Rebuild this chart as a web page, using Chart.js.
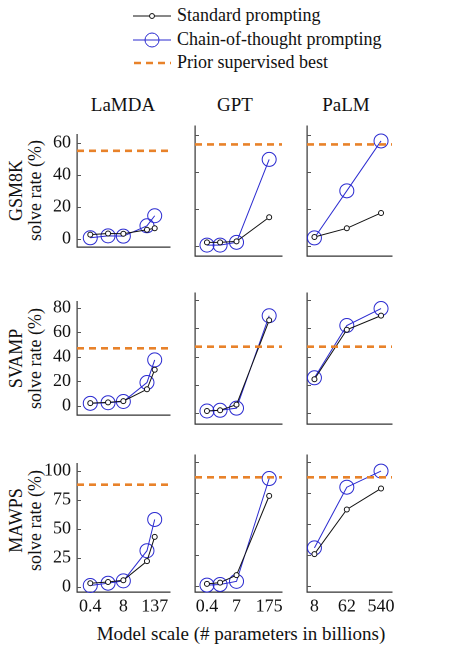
<!DOCTYPE html>
<html><head><meta charset="utf-8">
<script src="https://cdn.jsdelivr.net/npm/chart.js@4"></script>
<style>
body{margin:0;width:452px;height:656px;background:#fff;position:relative;font-family:"Liberation Serif","DejaVu Serif",serif;color:#111;overflow:hidden}
.a{position:absolute}
canvas{position:absolute}
.t{position:absolute;font-size:19px;text-align:center;width:100px}
.yl{position:absolute;font-size:18px;transform:rotate(-90deg);transform-origin:center;white-space:nowrap;text-align:center;width:150px}
.lg{position:absolute;left:133px;font-size:18px;display:flex;align-items:center}
</style></head><body>
<div class="lg" style="top:5px"><svg width="38" height="20"><line x1="0" y1="10" x2="38" y2="10" stroke="#111" stroke-width="1"/><circle cx="19" cy="10" r="2.5" fill="#fff" stroke="#111"/></svg><span style="margin-left:6px">Standard prompting</span></div>
<div class="lg" style="top:29px"><svg width="38" height="20"><line x1="0" y1="10" x2="38" y2="10" stroke="#2a2ad0" stroke-width="1"/><circle cx="19" cy="10" r="7" fill="none" stroke="#2a2ad0"/></svg><span style="margin-left:6px">Chain-of-thought prompting</span></div>
<div class="lg" style="top:52px"><svg width="38" height="20"><line x1="1" y1="10" x2="38" y2="10" stroke="#e8822a" stroke-width="2.5" stroke-dasharray="7,5"/></svg><span style="margin-left:6px">Prior supervised best</span></div>
<div class="t" style="left:73px;top:94px">LaMDA</div>
<div class="t" style="left:185px;top:94px">GPT</div>
<div class="t" style="left:296px;top:94px">PaLM</div>
<div class="yl" style="left:-59px;top:180px">GSM8K</div>
<div class="yl" style="left:-40px;top:180px">solve rate (%)</div>
<div class="yl" style="left:-59px;top:348px">SVAMP</div>
<div class="yl" style="left:-40px;top:348px">solve rate (%)</div>
<div class="yl" style="left:-59px;top:510px">MAWPS</div>
<div class="yl" style="left:-40px;top:510px">solve rate (%)</div>
<div class="a" style="left:0;width:482px;text-align:center;top:623px;font-size:19px">Model scale (# parameters in billions)</div>
<script>
const models=["LaMDA","GPT","PaLM"];
const tasks=["GSM8K","SVAMP","MAWPS"];
const sizesLaMDA=[0.4,2,8,68,137];
const sizesGPT=[0.35,1.3,6.7,175];
const sizesPaLM=[8,62,540];
const tickLabelsLaMDA=[[0.4,"0.4"],[8,"8"],[137,"137"]];
const tickLabelsGPT=[[0.35,"0.4"],[6.7,"7"],[175,"175"]];
const tickLabelsPaLM=[[8,"8"],[62,"62"],[540,"540"]];
const priorBest=[55,47,88];
const yTicks=[[0,20,40,60],[0,20,40,60,80],[0,25,50,75,100]];
const stdGSM8K=[[2.5,3.2,3,5.5,6.5],[2,2,2.5,15.6],[4.9,9.6,17.9]];
const cotGSM8K=[[0.5,1.7,1.5,8,14.3],[0.5,0.5,2,46.9],[4.4,29.9,56.9]];
const stdSVAMP=[[2.2,2.8,3.8,13.5,29.5],[1.5,2,6,65.7],[24,59,69]];
const cotSVAMP=[[2,2.5,3.5,19,37.5],[1.5,2,3.5,68.9],[25,62,74]];
const stdMAWPS=[[3,4,5.5,22,43],[2,3,9,73],[26,62,79]];
const cotMAWPS=[[1,3,5,31,58],[1,1.5,4,87],[31,80,93]];

const sizes=[sizesLaMDA,sizesGPT,sizesPaLM];
const tickLabels=[tickLabelsLaMDA,tickLabelsGPT,tickLabelsPaLM];
const std=[stdGSM8K,stdSVAMP,stdMAWPS];
const cot=[cotGSM8K,cotSVAMP,cotMAWPS];
const xRange=[[0.12,548],[0.106,630],[5,1080]];
const yRange=[[-5.4,65],[-7.7,85],[-4.6,106]];
const colLeft=[77,187,299], colW=[93,95,93];
const rowTop=[118,285,447], rowBot=[262,430,592];
const YW=42, XH=24, FONT='"Liberation Serif","DejaVu Serif",serif';

const innerTicks={id:'it',afterDraw(c){const g=c.ctx,a=c.chartArea,y=c.scales.y;g.save();g.strokeStyle='#555';g.lineWidth=1;
 y.ticks.forEach(t=>{const p=Math.round(y.getPixelForValue(t.value))+0.5;g.beginPath();g.moveTo(a.left,p);g.lineTo(a.left+4,p);g.stroke();});g.restore();}};

for(let r=0;r<3;r++)for(let c=0;c<3;c++){
 const cv=document.createElement('canvas');
 const w=colW[c]+(c===0?YW:0)+12, h=rowBot[r]-rowTop[r]+(r===2?XH:0)+2;
 cv.width=w;cv.height=h;
 cv.style.left=(colLeft[c]-(c===0?YW:0))+'px';cv.style.top=rowTop[r]+'px';
 cv.style.width=w+'px';cv.style.height=h+'px';
 document.body.appendChild(cv);
 const xs=sizes[c];
 new Chart(cv,{type:'line',data:{datasets:[
  {data:xRange[c].map(x=>({x,y:priorBest[r]})),borderColor:'#e8822a',borderWidth:2.6,borderDash:[7,5],pointRadius:0,clip:false},
  {data:xs.map((x,i)=>({x,y:std[r][c][i]})),borderColor:'#111',borderWidth:1,pointRadius:2.5,pointBackgroundColor:'#fff',pointBorderColor:'#111',pointBorderWidth:1,clip:false},
  {data:xs.map((x,i)=>({x,y:cot[r][c][i]})),borderColor:'#2a2ad0',borderWidth:1,pointRadius:7,pointBackgroundColor:'rgba(0,0,0,0)',pointBorderColor:'#2a2ad0',pointBorderWidth:1,clip:false}
 ]},options:{responsive:false,animation:false,devicePixelRatio:2,
  layout:{padding:{top:0,right:12,bottom:2,left:0}},
  plugins:{legend:{display:false},tooltip:{enabled:false}},
  scales:{
   x:{type:'logarithmic',min:xRange[c][0],max:xRange[c][1],
    afterBuildTicks:s=>{s.ticks=tickLabels[c].map(t=>({value:t[0]}));},
    afterFit:s=>{s.height=r===2?XH:0;},
    grid:{display:false,drawTicks:false},border:{display:true,color:'#333',width:1.2},
    ticks:{display:r===2,autoSkip:false,maxRotation:0,padding:4,color:'#111',font:{family:FONT,size:18},
     callback:(v)=>{const f=tickLabels[c].find(t=>t[0]===v);return f?f[1]:'';}}},
   y:{min:yRange[r][0],max:yRange[r][1],
    afterBuildTicks:s=>{s.ticks=yTicks[r].map(v=>({value:v}));},
    afterFit:s=>{s.width=c===0?YW:0;},
    grid:{display:false,drawTicks:false},border:{display:true,color:'#333',width:1.2},
    ticks:{display:c===0,padding:6,color:'#111',font:{family:FONT,size:18}}}
  }},plugins:[innerTicks]});
}
</script>
</body></html>
